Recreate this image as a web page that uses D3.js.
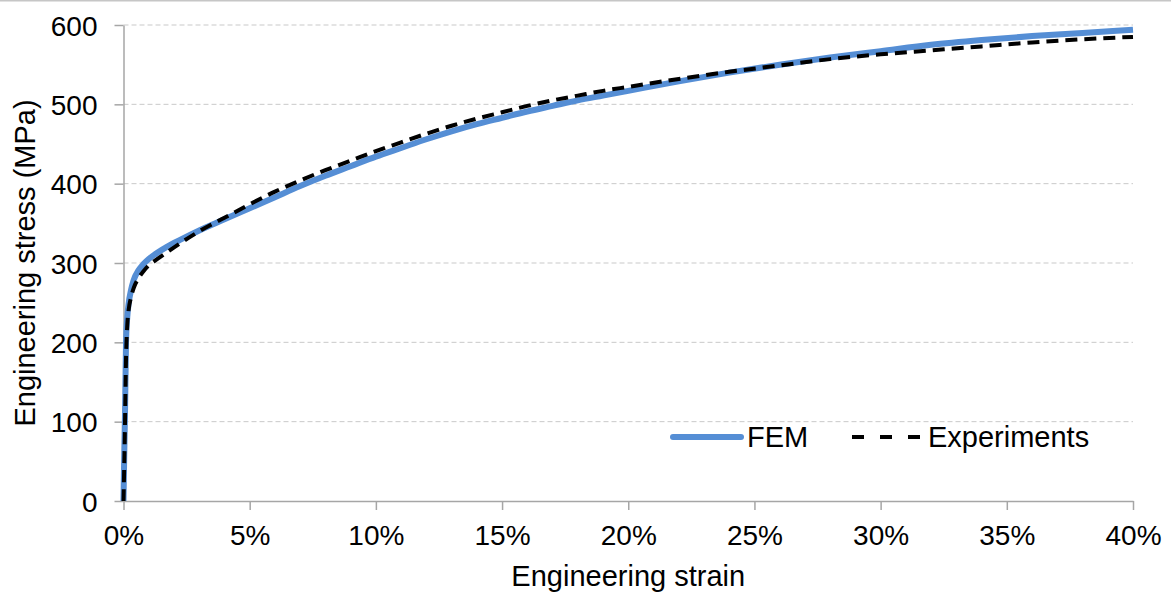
<!DOCTYPE html>
<html>
<head>
<meta charset="utf-8">
<script src="https://cdn.jsdelivr.net/npm/d3@7/dist/d3.min.js"></script>
<style>
  html, body { margin: 0; padding: 0; background: #fff; }
  svg { display: block; }
  text { font-family: "Liberation Sans", Arial, sans-serif; fill: #000; }
</style>
</head>
<body>
<svg id="chart" width="1171" height="599"></svg>
<script>
// ---- Data (strain in %, stress in MPa) ----
const femStrain = [0, 0.03, 0.06, 0.1, 0.15, 0.2, 0.3, 0.4, 0.6, 0.8, 1.0, 1.25, 1.7, 2.3, 3, 4, 5, 6, 7, 8, 9, 10, 11, 12, 13, 14, 15, 16, 17, 18, 19, 20, 22, 24, 26, 28, 30, 32, 34, 36, 38, 40];
const femStress = [0, 60, 111, 200, 232, 248, 266, 278, 291, 299, 305, 311, 320, 330, 341, 355, 369, 383, 397, 410, 422, 434, 445, 456, 466, 475, 483, 491, 498, 505, 511, 517, 529, 540, 550, 559, 567, 575, 581, 586, 590, 594];

const expStrain = [0, 0.05, 0.1, 0.15, 0.2, 0.3, 0.4, 0.6, 0.8, 1.0, 1.25, 1.7, 2.3, 3, 4, 5, 6, 7, 8, 9, 10, 11, 12, 13, 14, 15, 16, 17, 18, 19, 20, 22, 24, 26, 28, 30, 32, 34, 36, 38, 40];
const expStress = [0, 80, 180, 222, 240, 257, 268, 281, 290, 297, 303, 313, 326, 340, 357, 374, 390, 404, 417, 429, 441, 452, 463, 473, 482, 490, 498, 505, 511, 517, 522, 532, 541, 549, 557, 563, 568, 573, 578, 582, 585];

const xTicks = [0, 5, 10, 15, 20, 25, 30, 35, 40];
const yTicks = [0, 100, 200, 300, 400, 500, 600];
const seriesNames = ["FEM", "Experiments"];

// ---- Layout ----
const svg = d3.select("#chart");
const W = 1171, H = 599;
const x = d3.scaleLinear().domain([0, 40]).range([123.5, 1133]);
const y = d3.scaleLinear().domain([0, 600]).range([501, 25]);

const axisColor = "#a6a6a6";
const gridColor = "#c9c9c9";
const blue = "#558ed5";

// top border
svg.append("line").attr("x1", 0).attr("x2", W).attr("y1", 0.75).attr("y2", 0.75)
  .attr("stroke", "#c6c6c6").attr("stroke-width", 1.5);

// gridlines
svg.append("g").selectAll("line").data(yTicks.filter(d => d > 0)).join("line")
  .attr("x1", x(0)).attr("x2", x(40))
  .attr("y1", d => y(d)).attr("y2", d => y(d))
  .attr("stroke", gridColor).attr("stroke-width", 1)
  .attr("stroke-dasharray", "5,3");

// axes
const yAxis = d3.axisLeft(y).tickValues(yTicks).tickSize(9).tickSizeOuter(0).tickFormat(d3.format("d"));
const xAxis = d3.axisBottom(x).tickValues(xTicks).tickSize(9).tickSizeOuter(0).tickFormat(d => d + "%");

const gy = svg.append("g").attr("transform", `translate(${x(0)},0)`).call(yAxis);
const gx = svg.append("g").attr("transform", `translate(0,${y(0)})`).call(xAxis);

[gx, gy].forEach(g => {
  g.select(".domain").attr("stroke", axisColor).attr("stroke-width", 1.5);
  g.selectAll(".tick line").attr("stroke", axisColor).attr("stroke-width", 1.5);
  g.selectAll(".tick text").attr("font-family", "'Liberation Sans', Arial, sans-serif")
    .attr("font-size", 28).attr("fill", "#000");
});
gy.selectAll(".tick text").attr("x", -26).attr("dy", null).attr("y", 10);
gx.selectAll(".tick text").attr("dy", null).attr("y", 44);

// axis titles
svg.append("text").attr("x", (x(0) + x(40)) / 2).attr("y", 586)
  .attr("text-anchor", "middle").attr("font-size", 29).text("Engineering strain");
svg.append("text")
  .attr("transform", `translate(35,${(y(0) + y(600)) / 2}) rotate(-90)`)
  .attr("text-anchor", "middle").attr("font-size", 29).text("Engineering stress (MPa)");

// lines
const line = d3.line().x(d => x(d[0])).y(d => y(d[1])).curve(d3.curveMonotoneX);
const femData = femStrain.map((s, i) => [s, femStress[i]]);
const expData = expStrain.map((s, i) => [s, expStress[i]]);

svg.append("path").datum(femData).attr("d", line)
  .attr("fill", "none").attr("stroke", blue).attr("stroke-width", 6)
  .attr("stroke-linejoin", "round");
svg.append("path").datum(expData).attr("d", line)
  .attr("fill", "none").attr("stroke", "#000").attr("stroke-width", 4)
  .attr("stroke-dasharray", "12,7").attr("stroke-linejoin", "round");

// legend
const lg = svg.append("g");
lg.append("line").attr("x1", 673).attr("x2", 741).attr("y1", 437).attr("y2", 437)
  .attr("stroke", blue).attr("stroke-width", 6).attr("stroke-linecap", "round");
lg.append("text").attr("x", 747).attr("y", 447).attr("font-size", 29).text(seriesNames[0]);
lg.append("line").attr("x1", 852).attr("x2", 920).attr("y1", 437).attr("y2", 437)
  .attr("stroke", "#000").attr("stroke-width", 4).attr("stroke-dasharray", "12,16");
lg.append("text").attr("x", 928).attr("y", 447).attr("font-size", 29).text(seriesNames[1]);
</script>
</body>
</html>
